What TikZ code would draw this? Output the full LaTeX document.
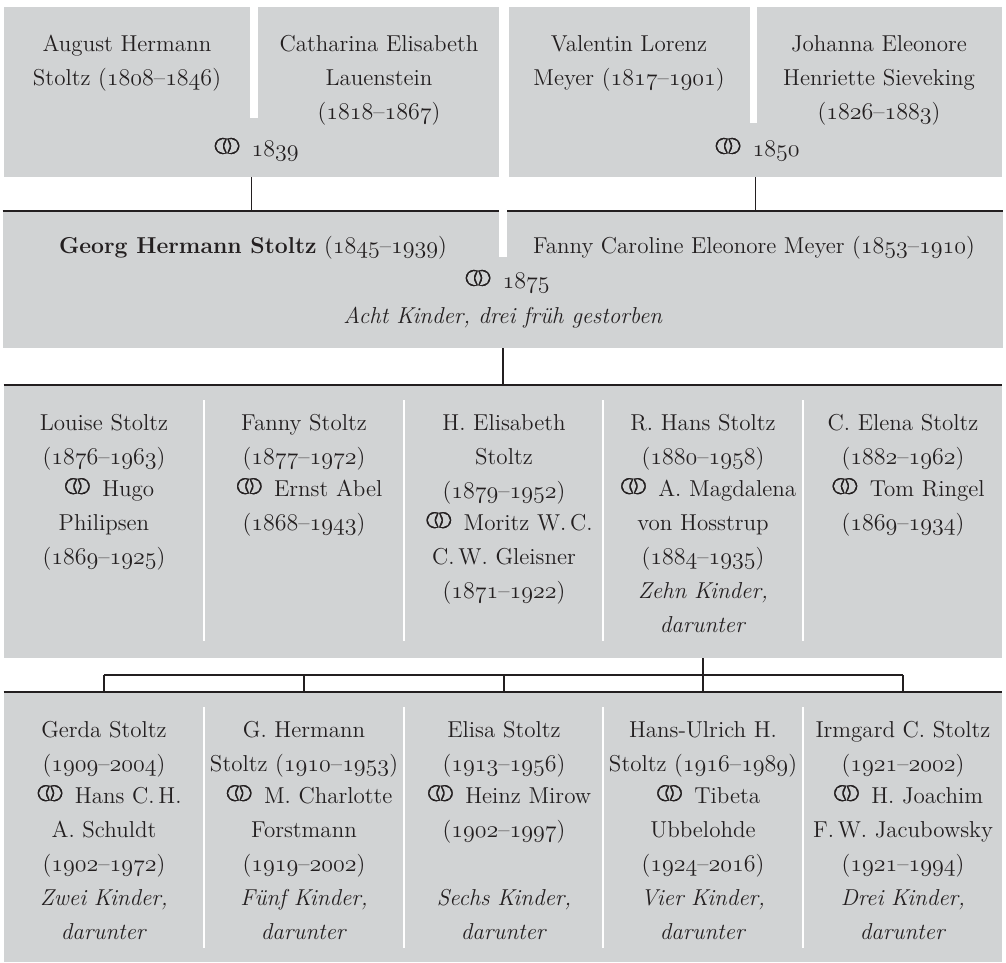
\documentclass[tikz,border=0pt]{standalone}
\usepackage{fontspec}
\newfontfamily\symfont{DejaVu Sans}
\usetikzlibrary{fit}
\definecolor{panelgray}{RGB}{209,211,212}
\definecolor{inkline}{RGB}{35,31,32}
\newcommand\osn[1]{{\usefont{OML}{lmm}{m}{it}#1}}
\newcommand\yrs[2]{(\osn{#1}--\osn{#2})}
% marriage sign, enlarged and thinned with a panel-coloured outline
\newcommand\mar{\kern-0.08em\raisebox{-0.46em}{\scalebox{2.45}{\special{pdf:literal direct 2 Tr 0.5 w 0.8196 0.8275 0.8314 RG}\symfont ⚭\special{pdf:literal direct 0 Tr}}}\kern-0.28em}
\tikzset{panel/.style={fill=panelgray,draw=none,inner sep=0pt},
 person/.style={anchor=base,inner sep=0pt,align=center,text width=97pt,
   text=inkline,font=\fontsize{11.5}{17}\selectfont},
 couple/.style={person,text width=118pt},
 plain/.style={anchor=base,inner sep=0pt,text=inkline,
   font=\fontsize{11.5}{17}\selectfont},
 topline/.style={draw=inkline,line width=1pt},
 link/.style={draw=inkline,line width=0.7pt},
 gap/.style={fill=white},
 }

\begin{document}
\begin{tikzpicture}[x=0.5pt,y=-0.5pt]
\useasboundingbox (0,0) rectangle (1006,963);
% panels
\node[panel,fit={(4,7) (499,177)}] (stoltz) {};
\node[panel,fit={(509,7) (1002,177)}] (meyer) {};
\node[panel,fit={(3,211) (1003,348)}] (georg) {};
\node[panel,fit={(4,385) (1002,658)}] (kids) {};
\node[panel,fit={(4,692) (1002,962)}] (grandkids) {};
\draw[topline] (georg.north west) -- (georg.north east);
\draw[topline] (kids.north west) -- (kids.north east);
\draw[topline] (grandkids.north west) -- (grandkids.north east);
% white gaps
\fill[gap] (250,7) rectangle (258,118);
\fill[gap] (750,7) rectangle (757,123);
\fill[gap] (499,209) rectangle (507,257);
\foreach \x in {204,404,603,803} {
  \fill[gap] (\x-1,400) rectangle (\x+1,641);
  \fill[gap] (\x-1,707) rectangle (\x+1,948);
}

% grandparents
\node[couple] (august) at (127,52) {August Hermann\\Stoltz \yrs{1808}{1846}};
\node[couple] (catharina) at (379,52) {Catharina Elisabeth\\Lauenstein\\\yrs{1818}{1867}};
\node[plain] (wed1) at (252,156) {\mar{} \osn{1839}};
\node[couple] (valentin) at (629,52) {Valentin Lorenz\\Meyer \yrs{1817}{1901}};
\node[couple] (johanna) at (879,52) {Johanna Eleonore\\Henriette Sieveking\\\yrs{1826}{1883}};
\node[plain] (wed2) at (753,156) {\mar{} \osn{1850}};

% parents
\node[plain] (georgname) at (253,253) {\textbf{Georg Hermann Stoltz} \yrs{1845}{1939}};
\node[plain] (fanny) at (754,253) {Fanny Caroline Eleonore Meyer \yrs{1853}{1910}};
\node[plain] (wed3) at (503,288) {\mar{} \osn{1875}};
\node[plain] (eight) at (503,323) {\textit{Acht Kinder, drei früh gestorben}};

% children
\node[person] (louise) at (104,430) {Louise Stoltz\\\yrs{1876}{1963}\\\mar{} Hugo\\Philipsen\\\yrs{1869}{1925}};
\node[person] (fannyst) at (304,430) {Fanny Stoltz\\\yrs{1877}{1972}\\\mar{} Ernst Abel\\\yrs{1868}{1943}};
\node[person] (elisabeth) at (504,430) {H. Elisabeth\\Stoltz\\\yrs{1879}{1952}\\\mar{} Moritz W.\,C.\\C.\,W. Gleisner\\\yrs{1871}{1922}};
\node[person] (hans) at (703,430) {R. Hans Stoltz\\\yrs{1880}{1958}\\\mar{} A. Magdalena\\von Hosstrup\\\yrs{1884}{1935}\\\textit{Zehn Kinder,}\\\textit{darunter}};
\node[person] (elena) at (903,430) {C. Elena Stoltz\\\yrs{1882}{1962}\\\mar{} Tom Ringel\\\yrs{1869}{1934}};

% grandchildren
\node[person] (gerda) at (104,737) {Gerda Stoltz\\\yrs{1909}{2004}\\\mar{} Hans C.\,H.\\A. Schuldt\\\yrs{1902}{1972}\\\textit{Zwei Kinder,}\\\textit{darunter}};
\node[person] (hermann) at (304,737) {G. Hermann\\Stoltz \yrs{1910}{1953}\\\mar{} M. Charlotte\\Forstmann\\\yrs{1919}{2002}\\\textit{Fünf Kinder,}\\\textit{darunter}};
\node[person] (elisa) at (504,737) {Elisa Stoltz\\\yrs{1913}{1956}\\\mar{} Heinz Mirow\\\yrs{1902}{1997}\\\mbox{}\\\textit{Sechs Kinder,}\\\textit{darunter}};
\node[person] (ulrich) at (703,737) {Hans-Ulrich H.\\Stoltz \yrs{1916}{1989}\\\mar{} Tibeta\\Ubbelohde\\\yrs{1924}{2016}\\\textit{Vier Kinder,}\\\textit{darunter}};
\node[person] (irmgard) at (903,737) {Irmgard C. Stoltz\\\yrs{1921}{2002}\\\mar{} H. Joachim\\F.\,W. Jacubowsky\\\yrs{1921}{1994}\\\textit{Drei Kinder,}\\\textit{darunter}};

% connectors
\draw[link] (stoltz.south) -- (georg.north -| stoltz.south);
\draw[link] (meyer.south) -- (georg.north -| meyer.south);
\draw[link] (georg.south) -- (kids.north);
\coordinate (fork) at (703,675);
\draw[link] (kids.south -| hans) -- (fork);
\draw[link] (fork -| gerda) -- (fork -| irmgard);
\foreach \n in {gerda,hermann,elisa,ulrich,irmgard}
  \draw[link] (fork -| \n) -- (grandkids.north -| \n);
\end{tikzpicture}
\end{document}
